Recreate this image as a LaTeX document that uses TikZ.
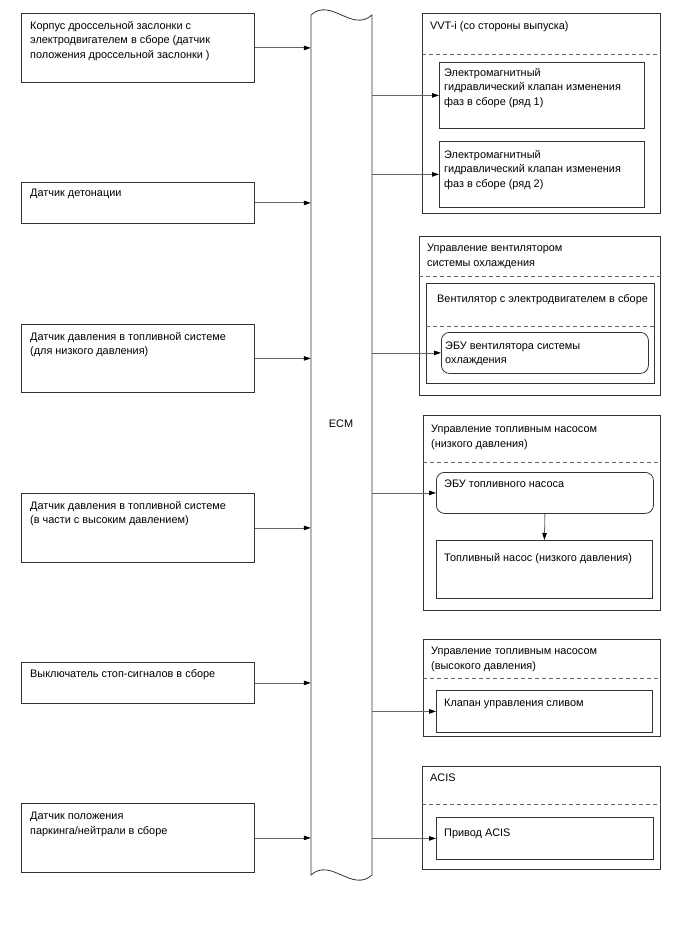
\documentclass[tikz,border=0pt]{standalone}
\usepackage{fontspec}
\setmainfont{Liberation Sans}
\usetikzlibrary{arrows.meta}
\tikzset{
  bx/.style={draw=black!80, line width=0.8pt, anchor=north west, inner sep=0pt, fill=white},
  rbx/.style={bx, rounded corners=8pt},
  txt/.style={anchor=north west, inner sep=0pt, align=left, font=\fontsize{10.9}{14.5}\selectfont, yshift=-1pt},
  con/.style={draw=black!60, line width=0.8pt, -{Triangle[length=7pt,width=4.5pt,fill=black,color=black]}},
  dsh/.style={draw=black!60, line width=0.8pt, dash pattern=on 4pt off 3pt},
  ecm/.style={draw=black!80, line width=0.8pt, fill=white},
}
\newcommand{\vp}{\vphantom{Б}}
\begin{document}
\begin{tikzpicture}[x=1pt,y=-1pt]
\useasboundingbox[fill=white] (0,0) rectangle (688,949);

% ECM
\node[minimum width=61pt, minimum height=860pt, inner sep=0pt] (E) at (341.5,445) {};
\draw[ecm] (311,15) .. controls (331,-3) and (352,33) .. (372,15) -- (372,875)
  .. controls (352,893) and (331,857) .. (311,875) -- cycle;
\node[font=\fontsize{10.9}{14.5}\selectfont] (ecmlabel) at (341,424) {ECM};

% left boxes
\node[bx, minimum width=233pt, minimum height=69pt] (L1) at (21,13) {};
\node[txt] (L1t) at (30,20.2) {\vp Корпус дроссельной заслонки с\\электродвигателем в сборе (датчик\\положения дроссельной заслонки )};
\node[bx, minimum width=233pt, minimum height=41pt] (L2) at (21,182) {};
\node[txt] (L2t) at (30,188.2) {\vp Датчик детонации};
\node[bx, minimum width=233pt, minimum height=68pt] (L3) at (21,324) {};
\node[txt] (L3t) at (30,331.2) {\vp Датчик давления в топливной системе\\(для низкого давления)};
\node[bx, minimum width=233pt, minimum height=69pt] (L4) at (21,493) {};
\node[txt] (L4t) at (30,500.2) {\vp Датчик давления в топливной системе\\(в части с высоким давлением)};
\node[bx, minimum width=233pt, minimum height=41pt] (L5) at (21,662) {};
\node[txt] (L5t) at (30,668.2) {\vp Выключатель стоп-сигналов в сборе};
\node[bx, minimum width=233pt, minimum height=69pt] (L6) at (21,803) {};
\node[txt] (L6t) at (30,811.2) {\vp Датчик положения\\паркинга/нейтрали в сборе};

\foreach \n in {L1,L2,L3,L4,L5,L6}{
  \draw[con] (\n.east) -- (\n.east -| E.west);
}

% VVT-i
\node[bx, minimum width=238pt, minimum height=200pt] (VV) at (422,13) {};
\draw[dsh] (VV.west |- 0,54) -- (VV.east |- 0,54);
\node[txt] (VVt) at (430,20.2) {\vp VVT-i (со стороны выпуска)};
\node[bx, minimum width=205pt, minimum height=66pt] (V1) at (439,62) {};
\node[txt] (V1t) at (444,67.2) {\vp Электромагнитный\\гидравлический клапан изменения\\фаз в сборе (ряд 1)};
\node[bx, minimum width=205pt, minimum height=66pt] (V2) at (439,141) {};
\node[txt] (V2t) at (444,149.2) {\vp Электромагнитный\\гидравлический клапан изменения\\фаз в сборе (ряд 2)};

% Fan
\node[bx, minimum width=241pt, minimum height=159pt] (FN) at (419,236) {};
\draw[dsh] (FN.west |- 0,276) -- (FN.east |- 0,276);
\node[txt] (FNt) at (427,243.2) {\vp Управление вентилятором\\системы охлаждения};
\node[bx, minimum width=228pt, minimum height=100pt] (FI) at (426,283) {};
\draw[dsh] (FI.west |- 0,326) -- (FI.east |- 0,326);
\node[txt] (FIt) at (437,293.2) {\vp Вентилятор с электродвигателем в сборе};
\node[rbx, minimum width=207pt, minimum height=41pt] (FE) at (441,332) {};
\node[txt] (FEt) at (445,340.2) {\vp ЭБУ вентилятора системы\\охлаждения};

% Fuel pump low
\node[bx, minimum width=237pt, minimum height=195pt] (FL) at (423,415) {};
\draw[dsh] (FL.west |- 0,462) -- (FL.east |- 0,462);
\node[txt] (FLt) at (431,424.2) {\vp Управление топливным насосом\\(низкого давления)};
\node[rbx, minimum width=217pt, minimum height=41pt] (FLE) at (436,472) {};
\node[txt] (FLEt) at (444,478.2) {\vp ЭБУ топливного насоса};
\node[bx, minimum width=216pt, minimum height=58pt] (FLP) at (436,540) {};
\node[txt] (FLPt) at (444,552.2) {\vp Топливный насос (низкого давления)};

% Fuel pump high
\node[bx, minimum width=237pt, minimum height=97pt] (FH) at (423,639) {};
\draw[dsh] (FH.west |- 0,678) -- (FH.east |- 0,678);
\node[txt] (FHt) at (431,646.2) {\vp Управление топливным насосом\\(высокого давления)};
\node[bx, minimum width=216pt, minimum height=42pt] (FHV) at (436,690) {};
\node[txt] (FHVt) at (444,698.2) {\vp Клапан управления сливом};

% ACIS
\node[bx, minimum width=238pt, minimum height=103pt] (AC) at (422,766) {};
\draw[dsh] (AC.west |- 0,804) -- (AC.east |- 0,804);
\node[txt] (ACt) at (430,772.2) {\vp ACIS};
\node[bx, minimum width=217pt, minimum height=42pt] (ACD) at (436,817) {};
\node[txt] (ACDt) at (444,827.2) {\vp Привод ACIS};

% right connectors
\foreach \n in {V1,V2,FE,FLE,FHV,ACD}{
  \draw[con] (\n.west -| E.east) -- (\n.west);
}
\draw[con] (FLE.south) -- (FLP.north);
\end{tikzpicture}
\end{document}
